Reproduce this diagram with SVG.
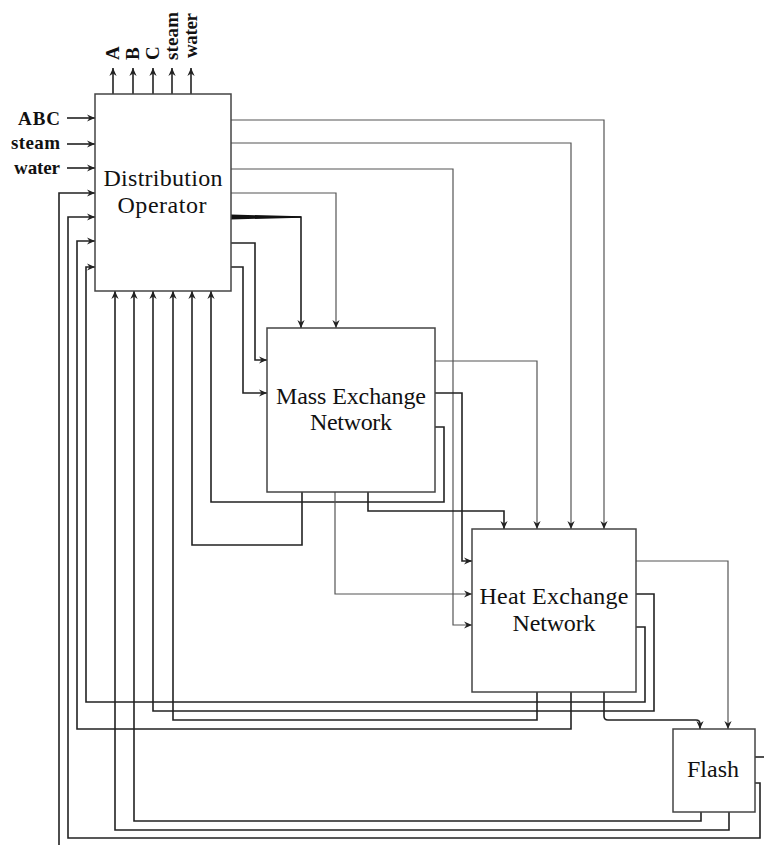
<svg xmlns="http://www.w3.org/2000/svg" width="764" height="845" viewBox="0 0 764 845">
<defs>
<marker id="ah" viewBox="0 0 10 10" refX="10" refY="5" markerWidth="8" markerHeight="8" markerUnits="userSpaceOnUse" orient="auto">
<path d="M0,0.5 L10,5 L0,9.5 L3.2,5 Z" fill="#222"/>
</marker>
<style>
.box{fill:#fff;stroke:#444;stroke-width:1.5}
.node{font-family:"Liberation Serif","DejaVu Serif","Times New Roman",serif;font-size:24px;fill:#111;text-anchor:middle}
.lbl{font-family:"Liberation Serif","DejaVu Serif","Times New Roman",serif;font-size:19px;font-weight:bold;fill:#111}
.dk{fill:none;stroke:#222;stroke-width:1.6}
.lt{fill:none;stroke:#555;stroke-width:1.2}
.arr{marker-end:url(#ah)}
</style>
</defs>
<rect width="764" height="845" fill="#fff"/>

<g id="connectors">
<path class="dk arr" d="M113,94 V68"/>
<path class="dk arr" d="M133,94 V68"/>
<path class="dk arr" d="M153,94 V68"/>
<path class="dk arr" d="M172,94 V68"/>
<path class="dk arr" d="M191,94 V68"/>
<path class="dk arr" d="M67,118 H95"/>
<path class="dk arr" d="M67,144 H95"/>
<path class="dk arr" d="M67,168 H95"/>
<path class="lt arr" d="M231,120 H604 V529"/>
<path class="lt arr" d="M231,143 H571 V529"/>
<path class="lt arr" d="M231,169 H453 V625 H472"/>
<path class="lt arr" d="M231,193 H336 V328"/>
<path class="dk arr" d="M231,217 H301 V328"/>
<path d="M231,214.5 L301,216.3 L301,217.7 L231,219.5 Z" fill="#111"/>
<path class="dk arr" d="M231,243 H255 V360 H267"/>
<path class="dk arr" d="M231,267 H243 V393 H267"/>
<path class="lt arr" d="M435,361 H537 V529"/>
<path class="dk arr" d="M435,393 H462 V561 H472"/>
<path class="dk arr" d="M435,427 H444 V502 H211 V291"/>
<path class="dk arr" d="M302,492 V545 H192 V291"/>
<path class="lt arr" d="M335,492 V594 H472"/>
<path class="dk arr" d="M368,492 V511 H504 V529"/>
<path class="lt arr" d="M636,561 H728 V729"/>
<path class="dk arr" d="M636,594 H654 V711 H153 V291"/>
<path class="dk arr" d="M636,627 H645 V702 H86 V267 H95"/>
<path class="dk arr" d="M537,692 V720 H173 V291"/>
<path class="dk arr" d="M571,692 V729 H77 V241 H95"/>
<path class="dk arr" d="M604,692 V716 Q604,720 608,720 H696 Q700,720 700,724 V729"/>
<path class="dk arr" d="M701,812 V821 H134 V291"/>
<path class="dk arr" d="M729,812 V830 H115 V291"/>
<path class="dk arr" d="M755,783 H760 V838 H68 V217 H95"/>
<path class="dk" d="M755,757 H764"/>
<path class="dk arr" d="M59,845 V193 H95"/>
</g>

<g id="labels">
<text class="lbl" text-anchor="end" x="60" y="125" textLength="42">ABC</text>
<text class="lbl" text-anchor="end" x="60" y="149" textLength="49">steam</text>
<text class="lbl" text-anchor="end" x="60" y="174" textLength="46">water</text>
<text class="lbl" transform="translate(119,60) rotate(-90)">A</text>
<text class="lbl" transform="translate(139,60) rotate(-90)">B</text>
<text class="lbl" transform="translate(159,60) rotate(-90)">C</text>
<text class="lbl" transform="translate(178,60) rotate(-90)" textLength="48">steam</text>
<text class="lbl" transform="translate(197,58) rotate(-90)" textLength="45">water</text>
</g>

<g id="distribution-operator">
<rect class="box" x="95" y="94" width="136" height="197"/>
<text class="node" x="163" y="186" textLength="119">Distribution</text>
<text class="node" x="162" y="213" textLength="89">Operator</text>
</g>

<g id="mass-exchange-network">
<rect class="box" x="267" y="328" width="168" height="164"/>
<text class="node" x="351" y="404" textLength="150">Mass Exchange</text>
<text class="node" x="351" y="430" textLength="82">Network</text>
</g>

<g id="heat-exchange-network">
<rect class="box" x="472" y="529" width="164" height="163"/>
<text class="node" x="554" y="604" textLength="149">Heat Exchange</text>
<text class="node" x="554" y="631" textLength="83">Network</text>
</g>

<g id="flash">
<rect class="box" x="673" y="729" width="82" height="83"/>
<text class="node" x="713" y="777" textLength="52">Flash</text>
</g>
</svg>
